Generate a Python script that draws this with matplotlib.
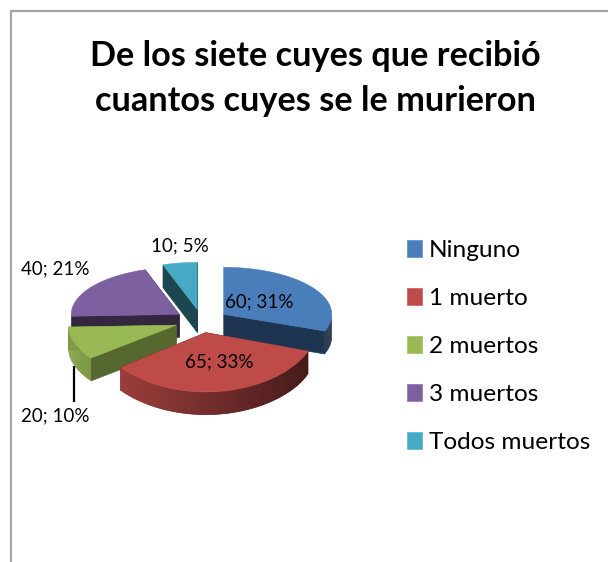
import numpy as np
import matplotlib
matplotlib.use("Agg")
import matplotlib.pyplot as plt
from matplotlib.collections import PolyCollection
from matplotlib.patches import Polygon
from matplotlib.colors import to_rgb

categories = ["Ninguno", "1 muerto", "2 muertos", "3 muertos", "Todos muertos"]
values = [60, 65, 20, 40, 10]
title = "De los siete cuyes que recibió\ncuantos cuyes se le murieron"
colors = ["#4A7EBB", "#BE4B48", "#98B954", "#7D60A0", "#46AAC4"]
dark = ["#1D3550", "#4A1C1A", "#56682F", "#32273F", "#1C4750"]

plt.rcParams["font.family"] = ["Lato", "DejaVu Sans"]
fig = plt.figure(figsize=(6.08, 5.62), dpi=100)
ax = fig.add_axes([0, 0, 1, 1])
ax.set_xlim(0, 608)
ax.set_ylim(562, 0)
ax.axis("off")

# frame
ax.plot([10.5, 10.5, 608], [562, 10.5, 10.5], color="#A6A6A6", lw=1.6, solid_capstyle="butt")

ax.text(315, 78.5, title, ha="center", va="center", fontsize=24.7, fontweight="bold",
        color="black", linespacing=1.48)

# pseudo-3D exploded pie, all angles derived from values
cx, cy, a, b, depth, explode = 201.5, 321, 108, 47, 23, 0.25
total = sum(values)
edges = np.concatenate([[0], np.cumsum(values)]) / total * 360


def persp(x, y):
    """Nearer points are drawn larger: a simple perspective bend."""
    over = np.maximum(0.0, np.asarray(y, dtype=float) - 330)
    return cx + (x - cx) * (1 + 0.0006 * over), y + 0.005 * over ** 2


def pt(theta, ox, oy, r=1.0):
    t = np.radians(theta)
    return persp(ox + a * r * np.sin(t), oy - b * r * np.cos(t))


handles = []
for i in [4, 3, 0, 2, 1]:
    s, e = edges[i], edges[i + 1]
    mid = (s + e) / 2
    t = np.radians(mid)
    ox, oy = cx + explode * a * np.sin(t), cy - explode * b * np.cos(t)
    base = np.array(to_rgb(colors[i]))
    # radial cut faces
    for th in (s, e):
        p0 = pt(th, ox, oy, 0)
        p1 = pt(th, ox, oy, 1)
        ax.add_patch(Polygon([p0, p1, (p1[0], p1[1] + depth), (p0[0], p0[1] + depth)],
                             closed=True, fc=dark[i], ec=dark[i], lw=0.4))
    # outer wall
    w0, w1 = max(s, 90), min(e, 270)
    if w1 > w0:
        ths = np.linspace(w0, w1, 70)
        quads, cols = [], []
        for j in range(len(ths) - 1):
            t0, t1 = ths[j], ths[min(j + 2, len(ths) - 1)]
            x0, y0 = pt(t0, ox, oy)
            x1, y1 = pt(t1, ox, oy)
            quads.append([(x0, y0), (x1, y1), (x1, y1 + depth), (x0, y0 + depth)])
            f = 0.615 - 0.265 * np.sin(np.radians(ths[j]))
            cols.append(tuple(base * f))
        ax.add_collection(PolyCollection(quads, facecolors=cols, edgecolors="none", linewidths=0))
    # top face
    ths = np.linspace(s, e, 120)
    xs, ys = pt(ths, ox, oy)
    top = Polygon(np.vstack([pt(0, ox, oy, 0), np.column_stack([xs, ys])]), closed=True,
                  fc=colors[i], ec=colors[i], lw=0.4, label=categories[i])
    ax.add_patch(top)
    handles.append((i, top))

handles = [h for _, h in sorted(handles, key=lambda q: q[0])]

# leader line
ax.plot([73.5, 73.5], [366, 402], color="black", lw=1.6, solid_capstyle="butt")

# data labels
label_pos = [(259, 302), (219, 362), (55, 416), (55, 269), (180, 246)]
for v, (x, y) in zip(values, label_pos):
    ax.text(x, y, f"{v}; {round(v / total * 100)}%", ha="center", va="center",
            fontsize=13.5, color="black")

leg = ax.legend(handles=handles, loc="upper left", bbox_to_anchor=(407 / 608, 1 - 240 / 562),
                frameon=False, fontsize=17.6, handlelength=0.62, handleheight=0.68,
                handletextpad=0.29, labelspacing=1.105, borderpad=0, borderaxespad=0)

fig.savefig("out.png", dpi=100)
